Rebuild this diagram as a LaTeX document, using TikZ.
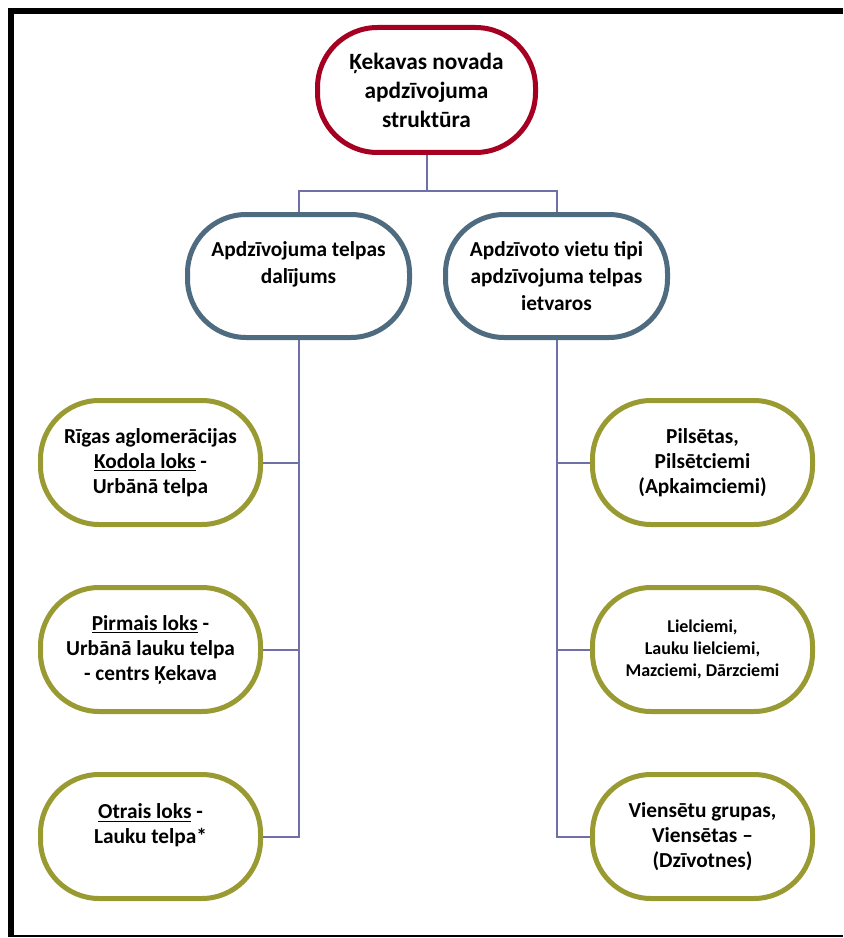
\documentclass[tikz,border=0pt]{standalone}
\usepackage{fontspec}
\setmainfont{Carlito}
\usepackage{tikz}
\usetikzlibrary{positioning}
\definecolor{rootred}{HTML}{A50021}
\definecolor{groupslate}{HTML}{4F6B80}
\definecolor{leafolive}{HTML}{9A9A33}
\definecolor{linkviolet}{HTML}{7070A8}

\begin{document}
\begin{tikzpicture}[
  x=0.75pt, y=-0.75pt,
  node distance=43.5pt and 20pt,
  root/.style={draw=rootred, line width=3.75pt, rounded corners=45pt, fill=white, align=center, inner sep=0pt, minimum width=163.5pt, minimum height=93.75pt, font=\fontsize{17.5}{21.75}\selectfont\bfseries},
  group/.style={draw=groupslate, line width=3.75pt, rounded corners=44pt, fill=white, align=center, inner sep=0pt, minimum width=166.5pt, minimum height=92.25pt, font=\fontsize{16}{20.25}\selectfont\bfseries},
  leaf/.style={draw=leafolive, line width=3.75pt, rounded corners=44pt, fill=white, align=center, inner sep=0pt, minimum width=165pt, minimum height=93pt, font=\fontsize{16}{18.75}\selectfont\bfseries},
  link/.style={draw=linkviolet, line width=1.5pt}
]
\useasboundingbox (0,0) rectangle (843,938);
% frame
\draw[line width=4.5pt] (11,936) -- (11,11) -- (843,11);
\draw[line width=1.5pt] (8,936) -- (843,936);

\node[root] (top) at (426.5,90) {Ķekavas novada\\apdzīvojuma\\struktūra};
\node[group] (space) at (298.5,276) {Apdzīvojuma telpas\\dalījums\\\phantom{x}};
\node[group] (types) at (556.5,276) {Apdzīvoto vietu tipi\\apdzīvojuma telpas\\ietvaros};

\node[leaf] (core) at (150.5,462.5) {Rīgas aglomerācijas\\\underline{Kodola loks} -\\Urbānā telpa};
\node[leaf, below=of core] (first) {\underline{Pirmais loks} -\\Urbānā lauku telpa\\- centrs Ķekava};
\node[leaf, below=of first] (second) {\underline{Otrais loks} -\\Lauku telpa*\\\phantom{x}};

\node[leaf] (towns) at (702.5,462.5) {Pilsētas,\\Pilsētciemi\\(Apkaimciemi)};
\node[leaf, below=of towns, font=\fontsize{13.5}{16.5}\selectfont\bfseries] (villages) {Lielciemi,\\Lauku lielciemi,\\Mazciemi, Dārzciemi};
\node[leaf, below=of villages] (farms) {Viensētu grupas,\\Viensētas –\\(Dzīvotnes)};

\coordinate (split) at (426.5,191);
\draw[link] (top) -- (split);
\draw[link] (split) -| (space);
\draw[link] (split) -| (types);
\draw[link] (space) |- (core);
\draw[link] (space) |- (first);
\draw[link] (space) |- (second);
\draw[link] (types) |- (towns);
\draw[link] (types) |- (villages);
\draw[link] (types) |- (farms);
\end{tikzpicture}
\end{document}
